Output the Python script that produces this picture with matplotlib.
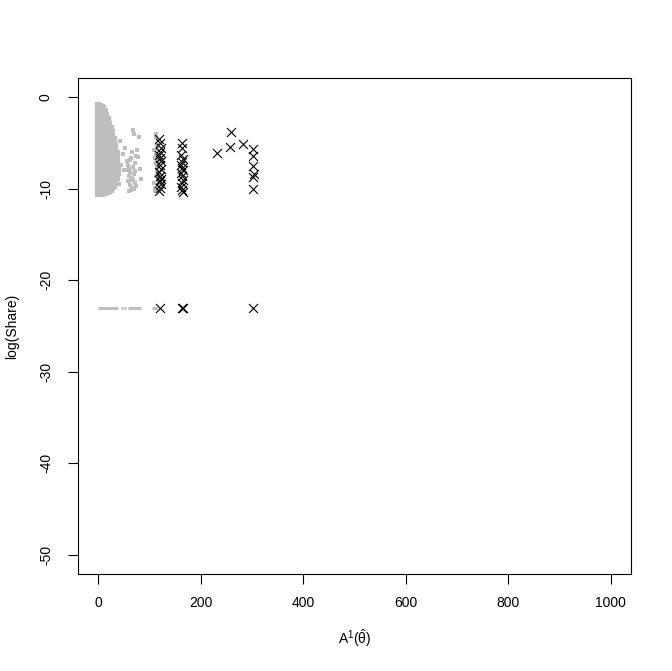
import matplotlib
matplotlib.use("Agg")
import matplotlib.pyplot as plt

plt.rcParams['font.family'] = ['Liberation Sans', 'DejaVu Sans']
plt.rcParams['mathtext.fontset'] = 'custom'
plt.rcParams['mathtext.rm'] = 'Liberation Sans'
plt.rcParams['mathtext.it'] = 'Liberation Sans'

FLOOR = -23.03  # log(1e-10), zero shares

# dense grey cloud, drawn as columns: x, top and bottom of log(Share)
cloud_x = [0, 3, 6, 9, 12, 15, 18, 21, 24, 27, 30, 33, 36, 39]
cloud_top = [-0.5, -0.6, -0.7, -0.9, -1.2, -1.6, -2.1, -2.6, -3.0, -3.5, -4.2, -5.0, -5.8, -7.5]
cloud_bot = [-10.9, -10.9, -10.9, -10.8, -10.8, -10.7, -10.7, -10.6, -10.5, -10.3, -10.0, -9.6, -9.2, -8.6]

# sparse grey points
grey_x = [43, 47, 45, 50, 41, 52, 55, 58, 60, 62, 64, 66, 68, 70, 57, 61, 65, 69, 72, 74, 76, 59, 63,
          67, 71, 56, 62, 66, 70, 73, 78, 82, 84, 60, 64, 68, 72, 80,
          108, 110, 112, 114, 116, 109, 111, 113, 115, 117, 110, 112, 114, 116, 118, 112, 114, 116, 113, 115]
grey_y = [-4.8, -6.2, -7.4, -8.0, -9.5, -5.5, -7.0, -7.4, -7.8, -8.2, -6.6, -8.8, -3.6, -4.0, -9.2,
          -9.6, -9.9, -8.4, -7.2, -6.4, -5.8, -8.6, -9.1, -7.6, -9.4, -8.0, -6.9, -6.0, -10.0, -9.7,
          -6.5, -7.8, -8.9, -10.2, -10.1, -9.0, -8.1, -4.4,
          -5.8, -6.6, -7.2, -8.0, -8.8, -9.4, -9.9, -6.2, -7.6, -8.4, -10.3, -4.4, -5.2, -9.1, -7.0,
          -8.6, -6.9, -9.6, -4.0, -5.6]

# zero-share grey segments (start, end)
zero_start = [0, 44, 50, 57, 105]
zero_end = [39, 47, 53, 84, 116]

# black crosses
cross_x = [119, 121, 122, 120, 118, 121, 123, 120, 122, 119, 121, 123, 120, 122, 121, 119,
           163, 164, 162, 165, 163, 161, 164, 166, 162, 163, 165, 164, 162, 163, 165,
           231, 257, 259, 282, 301, 302, 301, 303, 302, 302,
           120, 163, 165, 302]
cross_y = [-4.6, -5.0, -5.5, -6.0, -6.3, -6.6, -7.0, -7.4, -7.8, -8.2, -8.6, -8.9, -9.2, -9.5, -9.9, -10.3,
           -5.0, -5.6, -6.3, -6.8, -7.1, -7.4, -7.7, -8.0, -8.3, -8.6, -9.0, -9.4, -9.8, -10.1, -10.4,
           -6.1, -5.4, -3.8, -5.1, -5.7, -6.4, -7.5, -8.4, -8.7, -10.0,
           FLOOR, FLOOR, FLOOR, FLOOR]

fig = plt.figure(figsize=(6.72, 6.71), dpi=100)
ax = fig.add_axes([0.116, 0.1446, 0.823, 0.7392])

grey = '#BEBEBE'
ax.vlines(cloud_x, cloud_bot, cloud_top, color=grey, linewidth=4.5)
ax.scatter(grey_x, grey_y, marker='s', s=6, color=grey, linewidths=0)
ax.hlines([FLOOR] * len(zero_start), zero_start, zero_end, color=grey, linewidth=2.2)
ax.scatter(cross_x, cross_y, marker='x', s=42, color='black', linewidths=0.8)

ax.set_xlim(-40, 1040)
ax.set_ylim(-52.1, 2.1)
ax.set_xticks([0, 200, 400, 600, 800, 1000])
ax.set_yticks([0, -10, -20, -30, -40, -50])
ax.set_yticklabels(['0', '-10', '-20', '-30', '-40', '-50'], rotation=90, va='center')
ax.tick_params(direction='out', length=7, width=0.8, labelsize=10)
ax.tick_params(axis='x', pad=9)
ax.tick_params(axis='y', pad=11)
for s in ax.spines.values():
    s.set_linewidth(0.8)

ax.set_xlabel(r'A$^1$($\hat{\theta}$)', fontsize=10, labelpad=12)
ax.set_ylabel('log(Share)', fontsize=10, labelpad=14)

fig.savefig('out.png', dpi=100)
plt.close()
